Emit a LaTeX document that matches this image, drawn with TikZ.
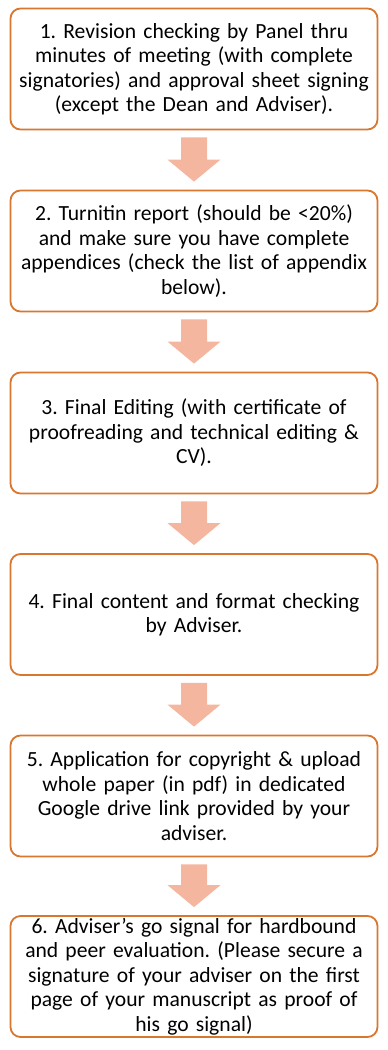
\documentclass[tikz,border=0pt]{standalone}
\usepackage{fontspec}
\setmainfont{Carlito}
\usetikzlibrary{calc}
\definecolor{boxline}{HTML}{D9772F}
\definecolor{arrowfill}{HTML}{F4B69E}
\frenchspacing
\begin{document}
\begin{tikzpicture}[x=1pt,y=-1pt,
 stepbox/.style={draw=boxline,line width=1.8pt,rounded corners=10pt,fill=white,
   minimum width=367pt,minimum height=121pt,text width=366pt,align=center,
   font=\fontsize{21.6}{24.5}\selectfont\frenchspacing,inner sep=0pt}]
\useasboundingbox (0,0) rectangle (388,1050);
\node[stepbox] (b1) at (194,69) {1. Revision checking by Panel thru\\minutes of meeting (with complete\\signatories) and approval sheet signing\\(except the Dean and Adviser).};
\node[stepbox] (b2) at (194,251) {2. Turnitin report (should be <20\%)\\and make sure you have complete\\appendices (check the list of appendix\\below).};
\node[stepbox] (b3) at (194,433) {3. Final Editing (with certificate of\\proofreading and technical editing \&\\CV).};
\node[stepbox] (b4) at (194,614.5) {4. Final content and format checking\\by Adviser.};
\node[stepbox] (b5) at (194,796) {5. Application for copyright \& upload\\whole paper (in pdf) in dedicated\\Google drive link provided by your\\adviser.};
\node[stepbox] (b6) at (194,976.5) {6. Adviser’s go signal for hardbound\\and peer evaluation. (Please secure a\\signature of your adviser on the first\\page of your manuscript as proof of\\his go signal)};
\foreach \a/\b in {b1/b2,b2/b3,b3/b4,b4/b5,b5/b6}{
  \fill[arrowfill] ($(\a.south)+(-13,7)$) -- ($(\a.south)+(13,7)$)
    -- ($(\b.north)+(13,-30)$) -- ($(\b.north)+(26.5,-30)$)
    -- ($(\b.north)+(0,-8)$) -- ($(\b.north)+(-26.5,-30)$)
    -- ($(\b.north)+(-13,-30)$) -- cycle;
}
\end{tikzpicture}
\end{document}
